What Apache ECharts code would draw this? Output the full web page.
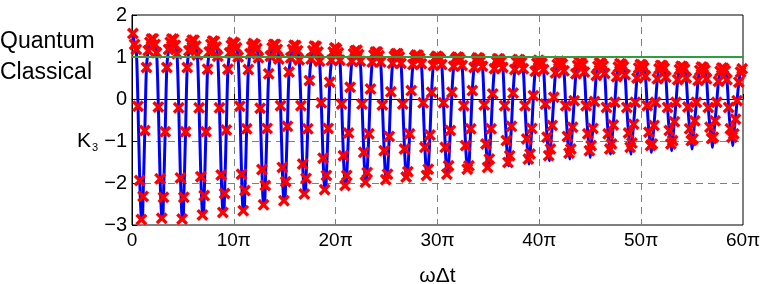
<!DOCTYPE html>
<html><head><meta charset="utf-8">
<script src="https://cdn.jsdelivr.net/npm/echarts@6/dist/echarts.min.js"></script>
<style>html,body{margin:0;padding:0;background:#fff}#c{width:763px;height:284px}</style>
</head><body><div id="c"></div>
<script>
// x values are in units of π (ωΔt / π)
const xTickLabels = ['0','10π','20π','30π','40π','50π','60π'];
const yTickValues = [-3,-2,-1,0,1,2];

// sample phase (in π) inside each 2π cycle for the 12 red samples
const sampleOffsets = [0.09,0.26,0.42,0.59,0.76,0.92,1.09,1.26,1.42,1.59,1.76,1.92];

// red-marker values, one array per sample phase, one entry per cycle (30 cycles)
const s0  = [1.56,1.43,1.42,1.40,1.37,1.33,1.30,1.30,1.27,1.25,1.19,1.16,1.12,1.08,1.04,1.00,0.99,0.97,0.95,0.93,0.90,0.88,0.87,0.85,0.83,0.81,0.79,0.77,0.75,0.73];
const s1  = [1.30,1.30,1.28,1.26,1.24,1.22,1.20,1.18,1.15,1.12,1.10,1.06,1.03,1.00,0.97,0.95,0.93,0.91,0.89,0.87,0.85,0.83,0.81,0.79,0.77,0.75,0.73,0.71,0.69,0.67];
const s2  = [1.18,1.10,1.08,1.05,1.02,1.00,0.98,0.95,0.93,0.90,0.92,0.90,0.88,0.85,0.84,0.82,0.80,0.78,0.75,0.72,0.70,0.67,0.64,0.61,0.58,0.55,0.52,0.50,0.48,0.46];
const s3  = [-0.17,-0.19,-0.21,-0.21,-0.21,-0.17,-0.22,-0.16,-0.16,-0.09,-0.12,-0.12,-0.14,-0.12,-0.09,-0.09,-0.16,-0.14,-0.16,-0.16,-0.12,-0.16,-0.16,-0.20,-0.20,-0.16,-0.20,-0.19,-0.20,-0.20];
const s4  = [-1.94,-1.90,-1.88,-1.85,-1.81,-1.79,-1.68,-1.63,-1.55,-1.41,-1.35,-1.27,-1.23,-1.19,-1.15,-1.15,-1.11,-1.07,-0.99,-0.95,-0.91,-0.89,-0.83,-0.83,-0.81,-0.79,-0.75,-0.71,-0.67,-0.71];
const s5  = [-2.87,-2.84,-2.86,-2.76,-2.70,-2.66,-2.52,-2.42,-2.26,-2.16,-2.06,-1.98,-1.92,-1.86,-1.82,-1.79,-1.67,-1.63,-1.51,-1.43,-1.35,-1.29,-1.23,-1.19,-1.15,-1.11,-1.07,-0.99,-0.94,-0.91];
const s6  = [-2.32,-2.34,-2.34,-2.30,-2.25,-2.18,-2.06,-1.97,-1.89,-1.82,-1.82,-1.75,-1.79,-1.73,-1.67,-1.59,-1.59,-1.43,-1.35,-1.31,-1.19,-1.19,-1.11,-1.07,-1.05,-1.07,-0.99,-0.95,-0.91,-0.83];
const s7  = [-0.75,-0.78,-0.78,-0.78,-0.74,-0.71,-0.70,-0.65,-0.71,-0.70,-0.81,-0.83,-0.89,-0.83,-0.86,-0.75,-0.71,-0.71,-0.65,-0.70,-0.63,-0.67,-0.70,-0.62,-0.60,-0.63,-0.54,-0.52,-0.52,-0.48];
const s8  = [0.75,0.75,0.75,0.71,0.71,0.70,0.60,0.64,0.44,0.40,0.28,0.24,0.17,0.20,0.16,0.16,0.20,0.12,0.14,0.08,0.04,-0.04,-0.06,-0.08,-0.08,-0.08,-0.08,-0.08,-0.08,-0.04];
const s9  = [1.15,1.18,1.15,1.12,1.10,1.08,1.02,0.98,0.95,0.92,0.90,0.88,0.85,0.82,0.80,0.78,0.75,0.72,0.70,0.66,0.62,0.60,0.56,0.53,0.50,0.48,0.46,0.44,0.42,0.40];
const s10 = [1.35,1.35,1.32,1.30,1.28,1.25,1.22,1.18,1.15,1.12,1.08,1.05,1.02,1.00,0.97,0.95,0.92,0.90,0.88,0.85,0.82,0.80,0.78,0.76,0.74,0.72,0.70,0.68,0.66,0.64];
const s11 = [1.43,1.43,1.40,1.38,1.35,1.32,1.30,1.28,1.26,1.22,1.15,1.12,1.08,1.05,1.02,1.00,0.98,0.96,0.94,0.92,0.90,0.88,0.86,0.84,0.82,0.80,0.78,0.76,0.74,0.72];

// blue curve minimum of each cycle (at cycle start + 1.0π)
const blueMinOffset = 1.0;
const blueMin = [-2.88,-2.86,-2.87,-2.78,-2.72,-2.66,-2.52,-2.42,-2.28,-2.17,-2.07,-1.99,-1.93,-1.87,-1.83,-1.82,-1.69,-1.65,-1.59,-1.55,-1.47,-1.43,-1.39,-1.31,-1.31,-1.27,-1.23,-1.19,-1.15,-1.11];

// quantum / classical bound K3 = 1, drawn across the whole figure width
const boundValue = 1;
const boundSpan = [-12.98, 60.87];

const tracks = [s0,s1,s2,s3,s4,s5,s6,s7,s8,s9,s10,s11];
const markerData = [];
const lineData = [];
for (let k = 0; k < blueMin.length; k++) {
  for (let j = 0; j < tracks.length; j++) {
    const pt = [2 * k + sampleOffsets[j], tracks[j][k]];
    markerData.push(pt);
    lineData.push(pt);
    if (j === 5) lineData.push([2 * k + blueMinOffset, blueMin[k]]);
  }
}

const crossPath = 'path://M0,2L2,0L5,3L8,0L10,2L7,5L10,8L8,10L5,7L2,10L0,8L3,5Z';
const FONT = 'Liberation Sans, Arial, sans-serif';

const chart = echarts.init(document.getElementById('c'), null, {renderer: 'canvas'});
chart.setOption({
  animation: false,
  backgroundColor: '#fff',
  grid: {left: 132, right: 20, top: 15, bottom: 59, show: true, borderColor: '#000', borderWidth: 1,
    backgroundColor: 'transparent', containLabel: false, outerBoundsMode: 'none'},
  xAxis: {
    type: 'value', min: 0, max: 60, interval: 10,
    axisLine: {show: true, lineStyle: {color: '#000', width: 1}},
    axisTick: {show: true, inside: true, length: 5, lineStyle: {color: '#000'}},
    axisLabel: {color: '#000', fontSize: 19, fontFamily: FONT, margin: 6,
      formatter: v => xTickLabels[Math.round(v / 10)]},
    splitLine: {show: true, lineStyle: {color: '#808080', width: 1, type: [7, 5]}},
    name: 'ωΔt', nameLocation: 'middle', nameGap: 41,
    nameTextStyle: {color: '#000', fontSize: 21, fontFamily: FONT}
  },
  yAxis: {
    type: 'value', min: -3, max: 2, interval: 1,
    axisLine: {show: true, lineStyle: {color: '#000', width: 1}},
    axisTick: {show: true, inside: true, length: 5, lineStyle: {color: '#000'}},
    axisLabel: {color: '#000', fontSize: 20, fontFamily: FONT, margin: 5,
      formatter: v => (yTickValues.indexOf(v) >= 0 ? String(v).replace('-', '\u2212') : '')},
    splitLine: {show: true, lineStyle: {color: '#808080', width: 1, type: [7, 5]}}
  },
  graphic: [
    {type: 'text', left: 0, top: 30, style: {text: 'Quantum', fill: '#000', font: '23px ' + FONT}},
    {type: 'text', left: 0, top: 61, style: {text: 'Classical', fill: '#000', font: '23px ' + FONT}},
    {type: 'text', left: 77, top: 131, style: {text: '{k|K}{s|3}', fill: '#000',
      rich: {k: {fontSize: 21, fontFamily: FONT, fill: '#000'}, s: {fontSize: 11, fontFamily: FONT, fill: '#000', padding: [12, 0, 0, 1]}}}}
  ],
  series: [
    {type: 'line', data: lineData, showSymbol: false, smooth: 0.3, silent: true,
      lineStyle: {color: '#0000ff', width: 3}, z: 2},
    {type: 'scatter', data: markerData, symbol: crossPath, symbolSize: 12, silent: true,
      itemStyle: {color: '#ff0000', opacity: 1}, z: 3},
    {type: 'line', data: [[boundSpan[0], boundValue], [boundSpan[1], boundValue]], clip: false,
      showSymbol: false, silent: true, lineStyle: {color: '#2e9e3e', width: 2}, z: 4}
  ]
});
</script></body></html>
